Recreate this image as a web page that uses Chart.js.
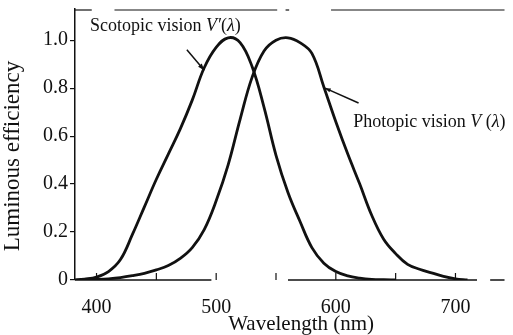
<!DOCTYPE html>
<html lang="en">
<head>
<meta charset="UTF-8">
<title>Luminous efficiency</title>
<script src="https://cdn.jsdelivr.net/npm/chart.js"></script>
<style>
  body { margin: 0; background: #fff; }
  #wrap { width: 513px; height: 335px; position: relative; }
</style>
</head>
<body>
<div id="wrap"><canvas id="chart"></canvas></div>
<script>
// values
const scotopicNm = [380, 390, 400, 410, 420, 430, 440, 450, 460, 470, 480, 490, 500, 510, 520, 530, 540, 550, 560, 570, 580, 590, 600, 610, 620, 630, 640, 650];
const scotopicV  = [0, 0.004, 0.012, 0.035, 0.085, 0.19, 0.305, 0.42, 0.525, 0.63, 0.75, 0.885, 0.97, 1.01, 0.99, 0.89, 0.72, 0.52, 0.365, 0.245, 0.135, 0.07, 0.035, 0.017, 0.008, 0.003, 0.001, 0];

const photopicNm = [390, 400, 410, 420, 430, 440, 450, 460, 470, 480, 490, 500, 510, 520, 530, 540, 550, 560, 570, 580, 590, 600, 610, 620, 630, 640, 650, 660, 670, 680, 690, 700, 710];
const photopicV  = [0, 0.002, 0.005, 0.01, 0.018, 0.028, 0.042, 0.06, 0.09, 0.135, 0.21, 0.33, 0.48, 0.67, 0.845, 0.955, 1.0, 1.01, 0.99, 0.945, 0.805, 0.66, 0.525, 0.4, 0.27, 0.17, 0.11, 0.065, 0.045, 0.03, 0.015, 0.005, 0];

const xTickMarks = [400, 450, 500, 550, 600, 650, 700];

const xTitle = 'Wavelength (nm)';
const yTitle = 'Luminous efficiency';
const scotopicLabel = [['Scotopic vision ', false], ['V\u2032', true], ['(', false], ['\u03bb', true], [')', false]];
const photopicLabel = [['Photopic vision ', false], ['V', true], [' (', false], ['\u03bb', true], [')', false]];

const serif = '"Liberation Serif", "Times New Roman", serif';
const ink = '#111';

function toPoints(xs, ys) {
  return xs.map((x, i) => ({ x: x, y: ys[i] }));
}

function drawRich(ctx, parts, x, y, size) {
  parts.forEach(([t, italic]) => {
    ctx.font = (italic ? 'italic ' : '') + size + 'px ' + serif;
    ctx.fillText(t, x, y);
    x += ctx.measureText(t).width;
  });
}

function arrow(ctx, x1, y1, x2, y2, head) {
  ctx.beginPath();
  ctx.moveTo(x1, y1);
  ctx.lineTo(x2, y2);
  ctx.stroke();
  const a = Math.atan2(y2 - y1, x2 - x1);
  ctx.beginPath();
  ctx.moveTo(x2, y2);
  ctx.lineTo(x2 - head * Math.cos(a - 0.35), y2 - head * Math.sin(a - 0.35));
  ctx.lineTo(x2 - head * Math.cos(a + 0.35), y2 - head * Math.sin(a + 0.35));
  ctx.closePath();
  ctx.fill();
}

const framePlugin = {
  id: 'frame',
  afterDraw(chart) {
    const { ctx, chartArea: a, scales: { x, y } } = chart;
    const px = v => x.getPixelForValue(v);
    const py = v => y.getPixelForValue(v);
    ctx.save();
    ctx.strokeStyle = ink;
    ctx.fillStyle = ink;
    ctx.lineWidth = 1.5;

    // bottom axis, broken like the scan
    [[382, 496], [560, 718], [729, 741]].forEach(([s, e]) => {
      ctx.beginPath();
      ctx.moveTo(px(s), a.bottom);
      ctx.lineTo(px(e), a.bottom);
      ctx.stroke();
    });
    // top frame line
    ctx.lineWidth = 1.2;
    [[382, 396], [415, 551], [558, 561], [596, 741]].forEach(([s, e]) => {
      ctx.beginPath();
      ctx.moveTo(px(s), a.top + 1);
      ctx.lineTo(px(e), a.top + 1);
      ctx.stroke();
    });
    // inward tick marks
    xTickMarks.forEach(v => {
      ctx.beginPath();
      ctx.moveTo(px(v), a.bottom);
      ctx.lineTo(px(v), a.bottom - 7);
      ctx.stroke();
    });

    // curve labels and pointers
    ctx.textBaseline = 'alphabetic';
    ctx.textAlign = 'left';
    drawRich(ctx, scotopicLabel, px(394.5), py(1.038), 18);
    drawRich(ctx, photopicLabel, px(614.5), py(0.638), 18);
    ctx.lineWidth = 1.5;
    arrow(ctx, px(475.5), py(0.96), px(490), py(0.875), 7);
    arrow(ctx, px(619), py(0.738), px(591), py(0.8), 6);

    // axis titles
    ctx.font = '21px ' + serif;
    ctx.textAlign = 'center';
    ctx.textBaseline = 'middle';
    ctx.fillText(xTitle, px(571), a.bottom + 44);
    ctx.save();
    ctx.translate(13, py(0.517));
    ctx.rotate(-Math.PI / 2);
    ctx.font = '23px ' + serif;
    ctx.fillText(yTitle, 0, 0);
    ctx.restore();

    ctx.restore();
  }
};

const lineStyle = {
  borderColor: ink,
  borderWidth: 2.8,
  pointRadius: 0,
  fill: false,
  tension: 0.4
};

new Chart(document.getElementById('chart'), {
  type: 'line',
  data: {
    datasets: [
      Object.assign({ label: 'Scotopic vision', data: toPoints(scotopicNm, scotopicV) }, lineStyle),
      Object.assign({ label: 'Photopic vision', data: toPoints(photopicNm, photopicV) }, lineStyle)
    ]
  },
  options: {
    responsive: true,
    maintainAspectRatio: false,
    animation: false,
    layout: { padding: { top: 9, right: 36, left: 0, bottom: 0 } },
    plugins: {
      legend: { display: false },
      tooltip: { enabled: false }
    },
    scales: {
      x: {
        type: 'linear',
        min: 382,
        max: 718,
        grid: { display: false },
        border: { display: false },
        ticks: {
          stepSize: 100,
          includeBounds: false,
          padding: 8,
          color: ink,
          font: { family: serif, size: 20 }
        },
        afterFit(scale) { scale.height = 55; }
      },
      y: {
        min: 0,
        max: 1.13,
        grid: { drawOnChartArea: false, tickLength: 5, color: ink, lineWidth: 1.2 },
        border: { display: true, color: ink, width: 1.5 },
        ticks: {
          stepSize: 0.2,
          includeBounds: false,
          padding: 2,
          color: ink,
          font: { family: serif, size: 20 },
          callback: v => v === 0 ? '0' : v.toFixed(1)
        },
        afterFit(scale) {
          scale.width = 75;
          scale.paddingTop = 0;
          scale.paddingBottom = 0;
        }
      }
    }
  },
  plugins: [framePlugin]
});
</script>
</body>
</html>
